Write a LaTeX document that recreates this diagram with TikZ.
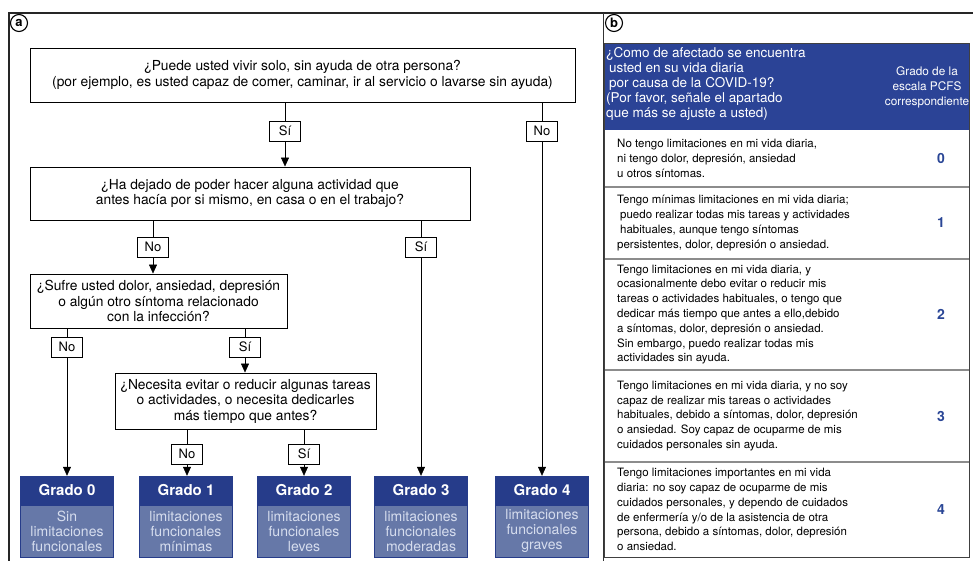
\documentclass[tikz,border=0pt]{standalone}
\usepackage{fontspec}
\setmainfont{TeX Gyre Heros}
\usepackage{xcolor}
\usetikzlibrary{arrows.meta,positioning}
\definecolor{gradodark}{RGB}{38,60,138}
\definecolor{gradolight}{RGB}{102,120,168}
\definecolor{gradotext}{RGB}{214,221,238}
\definecolor{headblue}{RGB}{43,67,150}
\definecolor{digitblue}{RGB}{42,70,150}
\definecolor{rowgray}{RGB}{140,140,140}

\begin{document}
\begin{tikzpicture}[x=1pt,y=-1pt,
   qbox/.style={draw,line width=0.9pt,fill=white,align=center,inner sep=0pt,font=\fontsize{13.8}{15.5}\selectfont},
   lbl/.style={draw,line width=0.8pt,fill=white,minimum width=31pt,minimum height=20pt,inner sep=0pt,font=\fontsize{13}{14}\selectfont},
   ln/.style={line width=0.6pt},
   arr/.style={line width=0.6pt,-{Triangle[width=8pt,length=9pt]}},
   gtop/.style={draw=gradodark,fill=gradodark,text=white,minimum width=93pt,minimum height=29pt,inner sep=0pt,font=\bfseries\fontsize{15}{16}\selectfont},
   gbot/.style={draw=gradodark,fill=gradolight,text=gradotext,minimum width=93pt,minimum height=52pt,inner sep=0pt,align=center,font=\fontsize{14}{15}\selectfont},
   panel/.style={circle,draw,line width=1.1pt,minimum size=17pt,inner sep=0pt,font=\bfseries\fontsize{13}{13}\selectfont},
   rowtxt/.style={anchor=west,align=left,inner sep=0pt,font=\fontsize{11.5}{14.8}\selectfont},
   digit/.style={text=digitblue,font=\bfseries\fontsize{14}{14}\selectfont}]
   \useasboundingbox (0,0) rectangle (973,561);
   \draw[line width=1.2pt,black!85] (9,561) -- (9,13) -- (973,13);
   \draw[line width=1pt,black!80] (603,13) -- (603,561);
   \node[panel] (pa) at (19,23) {a};
   \node[panel] (pb) at (614,23) {b};

   \node[qbox,minimum width=545pt,minimum height=54pt] (q1) at (302.5,75) {¿Puede usted vivir solo, sin ayuda de otra persona?\\(por ejemplo, es usted capaz de comer, caminar, ir al servicio o lavarse sin ayuda)};
   \node[qbox,minimum width=440pt,minimum height=53pt] (q2) at (250,193.5) {¿Ha dejado de poder hacer alguna actividad que\\antes hacía por si mismo, en casa o en el trabajo?};
   \node[qbox,minimum width=257pt,minimum height=54pt] (q3) at (158.5,301) {¿Sufre usted dolor, ansiedad, depresión\\o algún otro síntoma relacionado\\con la infección?};
   \node[qbox,minimum width=261pt,minimum height=56pt] (q4) at (245.5,401) {¿Necesita evitar o reducir algunas tareas\\o actividades, o necesita dedicarles\\más tiempo que antes?};

   \foreach \i/\x/\txt in {0/67/{Sin\\limitaciones\\funcionales},1/186/{limitaciones\\funcionales\\mínimas},2/304/{limitaciones\\funcionales\\leves},3/421/{limitaciones\\funcionales\\moderadas},4/542/{limitaciones\\funcionales\\graves}}{
      \node[gtop] (g\i) at (\x,490.5) {Grado \i};
      \node[gbot,below=0pt of g\i] (g\i b) {\txt};
   }

   \node[lbl] (l1) at (285,131) {Sí};
   \node[lbl] (l2) at (542,131) {No};
   \node[lbl] (l3) at (153,247) {No};
   \node[lbl] (l4) at (421,247) {Sí};
   \node[lbl] (l5) at (67,347) {No};
   \node[lbl] (l6) at (245,347) {Sí};
   \node[lbl] (l7) at (187,454) {No};
   \node[lbl] (l8) at (304,454) {Sí};

   \draw[ln] (q1.south -| l1) -- (l1);
   \draw[arr] (l1) -- (q2.north -| l1);
   \draw[ln] (q1.south -| l2) -- (l2);
   \draw[arr] (l2) -- (g4.north);
   \draw[ln] (q2.south -| l3) -- (l3);
   \draw[arr] (l3) -- (q3.north -| l3);
   \draw[ln] (q2.south -| l4) -- (l4);
   \draw[arr] (l4) -- (g3.north);
   \draw[ln] (q3.south -| l5) -- (l5);
   \draw[arr] (l5) -- (g0.north);
   \draw[ln] (q3.south -| l6) -- (l6);
   \draw[arr] (l6) -- (q4.north -| l6);
   \draw[ln] (q4.south -| l7) -- (l7);
   \draw[arr] (l7) -- (g1.north -| l7);
   \draw[ln] (q4.south -| l8) -- (l8);
   \draw[arr] (l8) -- (g2.north -| l8);

   \fill[headblue] (604,44) rectangle (969,130);
   \node[anchor=west,align=left,inner sep=0pt,text=white,font=\fontsize{13.5}{15}\selectfont] (hq) at (606,84) {¿Como de afectado se encuentra\\\hspace{3pt}usted en su vida diaria\\\hspace{3pt}por causa de la COVID-19?\\(Por favor, señale el apartado\\que más se ajuste a usted)};
   \node[align=center,inner sep=0pt,text=white,font=\fontsize{11.8}{15}\selectfont] (hg) at (927,87) {Grado de la\\escala PCFS\\correspondiente};
   \draw[rowgray,line width=1.5pt] (604,187) -- (969,187) (604,259) -- (969,259) (604,370) -- (969,370) (604,462) -- (969,462);
   \draw[black!75,line width=1pt] (604,44) rectangle (969,557);

   \node[rowtxt] (r0) at (617,158.5) {No tengo limitaciones en mi vida diaria,\\ni tengo dolor, depresión, ansiedad\\u otros síntomas.};
   \node[rowtxt] (r1) at (617,223) {Tengo mínimas limitaciones en mi vida diaria;\\\hspace{3pt}puedo realizar todas mis tareas y actividades\\\hspace{3pt}habituales, aunque tengo síntomas\\persistentes, dolor, depresión o ansiedad.};
   \node[rowtxt] (r2) at (617,314.5) {Tengo limitaciones en mi vida diaria, y\\ocasionalmente debo evitar o reducir mis\\tareas o actividades habituales, o tengo que\\dedicar más tiempo que antes a ello,debido\\a síntomas, dolor, depresión o ansiedad.\\Sin embargo, puedo realizar todas mis\\actividades sin ayuda.};
   \node[rowtxt] (r3) at (617,416) {Tengo limitaciones en mi vida diaria, y no soy\\capaz de realizar mis tareas o actividades\\habituales, debido a síntomas, dolor, depresión\\o ansiedad. Soy capaz de ocuparme de mis\\cuidados personales sin ayuda.};
   \node[rowtxt] (r4) at (617,509.5) {Tengo limitaciones importantes en mi vida\\diaria: no soy capaz de ocuparme de mis\\cuidados personales, y dependo de cuidados\\de enfermería y/o de la asistencia de otra\\persona, debido a síntomas, dolor, depresión\\o ansiedad.};
   \node[digit] (d0) at (941,158.5) {0};
   \node[digit] (d1) at (941,223) {1};
   \node[digit] (d2) at (941,314.5) {2};
   \node[digit] (d3) at (941,416) {3};
   \node[digit] (d4) at (941,509.5) {4};
\end{tikzpicture}
\end{document}
